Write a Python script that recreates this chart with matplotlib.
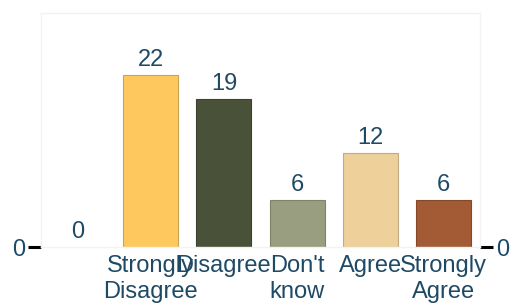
import matplotlib
matplotlib.use("Agg")
import matplotlib.pyplot as plt

categories = ["", "Strongly\nDisagree", "Disagree", "Don't\nknow", "Agree", "Strongly\nAgree"]
counts = [0, 22, 19, 6, 12, 6]
colors = ["#ffffff", "#fec85f", "#4a5139", "#9a9e80", "#eed09b", "#a35b35"]
edges = ["#ffffff", "#c9a457", "#3c4230", "#7f8468", "#c2aa82", "#85482a"]

plt.rcParams['font.family'] = ['Liberation Sans', 'DejaVu Sans']
text_color = "#1f4a66"

fig = plt.figure(figsize=(5.16, 3.08), dpi=100)
ax = fig.add_axes([41 / 516, 1 - 247 / 308, 439 / 516, 234 / 308])

x = list(range(len(categories)))
bars = ax.bar(x, counts, width=0.75, color=colors, edgecolor=edges, linewidth=0.8)

for xi, v in zip(x, counts):
    ax.text(xi, v + 0.5, str(v), ha="center", va="bottom", fontsize=17, color=text_color)

ax.set_xlim(-0.5, 5.5)
ax.set_ylim(0, 30)
ax.set_xticks(x)
ax.set_xticklabels(categories, fontsize=17, color=text_color, linespacing=1.22)
ax.tick_params(axis="x", length=0, pad=6)
ax.set_yticks([0])
ax.set_yticklabels(["0"])
ax.tick_params(axis="y", length=9.5, width=2.2, color="black", labelsize=17,
               labelcolor=text_color, left=True, right=True, labelleft=True,
               labelright=True, pad=2)
for s in ax.spines.values():
    s.set_color("#f2f2f2")
    s.set_linewidth(1)

fig.savefig("out.png", dpi=100)
